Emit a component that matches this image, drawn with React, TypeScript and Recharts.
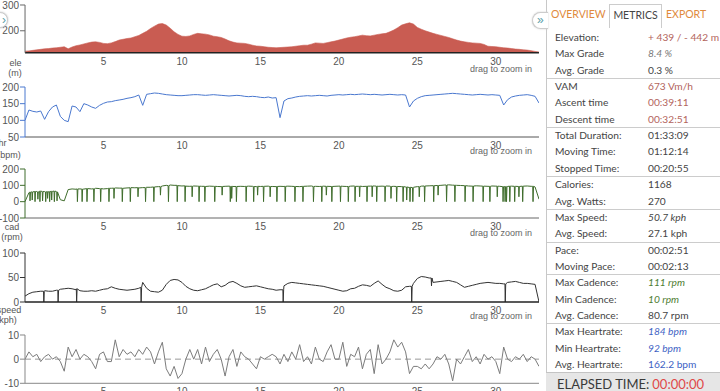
import React from 'react';
import { AreaChart, Area, LineChart, Line, XAxis, YAxis, ReferenceLine } from 'recharts';

// distance grid used by every trace (km)
const STEP_KM = 0.25;
const KM_MAX = 32.75;
const KM_TICKS = [5, 10, 15, 20, 25, 30];

const ELE_M = [
  121, 122, 124, 126, 128, 130, 131, 133, 134, 136, 138, 130, 137, 142, 145, 149,
  153, 156, 157, 155, 151, 150, 153, 158, 164, 167, 170, 172, 177, 182, 190, 198,
  209, 218, 226, 228, 222, 210, 196, 186, 179, 178, 180, 186, 190, 188, 187, 184,
  179, 177, 174, 168, 161, 156, 153, 152, 151, 148, 144, 141, 140, 138, 136, 135,
  134, 135, 136, 137, 138, 140, 142, 144, 144, 148, 153, 152, 151, 154, 157, 160,
  164, 168, 172, 175, 177, 180, 183, 181, 180, 183, 186, 188, 190, 196, 203, 212,
  222, 227, 231, 226, 213, 206, 200, 195, 190, 186, 182, 178, 174, 169, 164, 160,
  157, 155, 153, 152, 151, 147, 140, 139, 138, 136, 134, 133, 131, 129, 128, 126,
  125, 123, 120, 118,
];

const HR_BPM = [
  100, 131, 127, 125, 128, 103, 126, 140, 146, 112, 100, 96, 143, 140, 126, 150,
  146, 140, 136, 145, 151, 155, 156, 159, 161, 163, 166, 168, 171, 176, 145, 178,
  180, 182, 181, 179, 177, 176, 175, 174, 174, 175, 176, 177, 177, 176, 175, 176,
  177, 176, 175, 174, 173, 174, 175, 174, 172, 171, 172, 171, 169, 168, 170, 167,
  168, 108, 158, 165, 167, 170, 172, 173, 174, 173, 174, 175, 174, 173, 175, 176,
  177, 176, 177, 178, 177, 178, 179, 178, 177, 178, 177, 176, 177, 178, 177, 176,
  177, 176, 140, 158, 166, 171, 174, 175, 176, 177, 178, 179, 180, 181, 180, 179,
  178, 177, 176, 177, 178, 177, 176, 177, 176, 175, 146, 162, 170, 173, 175, 176,
  177, 175, 172, 152,
];

const CAD_RPM = [
  0, 55, 60, 62, 65, 62, 60, 63, 62, 12, 5, 74, 78, 76, 78, 77,
  80, 78, 82, 80, 78, 80, 82, 84, 83, 82, 84, 86, 85, 84, 86, 88,
  88, 90, 92, 96, 100, 102, 100, 98, 96, 95, 94, 96, 95, 94, 93, 95,
  94, 93, 92, 94, 95, 93, 92, 94, 93, 95, 94, 92, 93, 94, 95, 93,
  92, 94, 93, 95, 94, 93, 92, 94, 95, 96, 94, 93, 95, 94, 93, 94,
  95, 94, 93, 95, 96, 94, 93, 94, 95, 96, 94, 95, 96, 95, 94, 93,
  92, 90, 86, 88, 92, 95, 96, 97, 98, 99, 100, 102, 103, 101, 100, 99,
  98, 96, 95, 97, 96, 95, 94, 96, 95, 94, 92, 93, 95, 94, 93, 95,
  96, 94, 90, 15,
];

// cadence dropouts: [km, level before, lowest value]
const CAD_DROPS = [
  [0.3, 58, 5], [0.44, 60, 10], [0.62, 62, 0], [0.8, 60, 15], [0.93, 64, 0], [1.1, 62, 5],
  [1.3, 60, 0], [1.42, 62, 20], [1.55, 62, 0], [1.68, 64, 10], [1.85, 65, 0], [2.02, 60, 5],
  [3.32, 78, 0], [3.62, 77, 0], [3.93, 80, 0], [4.37, 79, 0], [4.8, 80, 0], [5.33, 82, 0],
  [5.65, 83, 20], [6.18, 83, 0], [6.69, 85, 0], [7.18, 86, 30], [7.66, 86, 0], [8.19, 90, 0],
  [8.61, 92, 40], [9.12, 98, 0], [9.68, 100, 0], [10.18, 97, 0], [10.63, 95, 30], [11.07, 95, 0],
  [11.44, 94, 0], [12.07, 94, 0], [12.54, 93, 40], [13.06, 94, 0], [13.15, 94, 20], [13.45, 93, 0],
  [14.07, 94, 0], [14.55, 93, 0], [14.8, 94, 40], [15.18, 94, 0], [15.6, 93, 30],
  [16.03, 93, 0], [16.56, 94, 0], [17.18, 93, 0], [17.69, 94, 0], [18.36, 93, 0], [18.89, 94, 0],
  [19.18, 94, 40], [19.53, 93, 0], [20.08, 95, 0], [20.58, 93, 0], [21.01, 94, 0], [21.3, 95, 30],
  [21.77, 95, 0], [22.1, 96, 30], [22.39, 95, 0], [22.92, 94, 0], [23.3, 93, 20], [23.66, 93, 0],
  [24.07, 92, 0], [24.3, 90, 10], [24.51, 88, 0], [24.69, 86, 0], [25.1, 92, 30], [25.44, 96, 0],
  [26.02, 98, 0], [26.3, 99, 40], [26.84, 102, 0], [27.37, 101, 0], [28.02, 98, 0], [28.53, 96, 0],
  [29.17, 95, 0], [29.6, 94, 0], [30.07, 95, 30], [30.44, 92, 0], [30.57, 92, 0], [30.66, 93, 0],
  [30.87, 95, 0], [31.18, 94, 0], [31.45, 93, 30], [31.69, 95, 0], [32.35, 94, 0],
];

const SPEED_KPH = [
  12, 17, 20, 21, 22, 23, 22, 22, 24, 26, 27, 28, 27, 25, 23, 22,
  22, 23, 22, 24, 26, 27, 31, 28, 26, 25, 24, 25, 26, 28, 40, 28,
  22, 21, 20, 24, 36, 44, 46, 45, 40, 32, 27, 24, 23, 25, 27, 31,
  35, 37, 31, 34, 40, 42, 38, 33, 30, 31, 32, 33, 31, 29, 27, 26,
  24, 25, 33, 38, 40, 39, 38, 37, 36, 35, 34, 33, 32, 30, 28, 26,
  24, 22, 23, 27, 28, 32, 35, 34, 32, 38, 43, 36, 30, 27, 23, 22,
  24, 31, 32, 38, 48, 52, 51, 49, 40, 41, 42, 43, 44, 42, 40, 35,
  30, 32, 34, 36, 38, 39, 40, 39, 38, 38, 37, 40, 41, 42, 40, 38,
  38, 37, 36, 0,
];

const SPEED_DROPS = [
  [1.18, 22, 0], [2.09, 24, 0], [3.27, 27, 0], [7.38, 30, 0], [16.43, 25, 0],
  [24.62, 32, 0], [25.88, 49, 33], [30.58, 37, 0],
];

const GRADE_PCT = [
  0, 3, 1, 2, -1, 1, 2, 0, 1, -1, -5, 5, 1, 4, 0, 2,
  1, -1, -4, 2, 3, -1, -1, 8, 1, 4, 2, 3, 1, 4, 2, 5,
  3, -2, 3, 7, -4, -7, -3, -8, -6, 0, 4, 0, 4, -2, 5, -1,
  2, 4, 0, -7, 1, 4, -3, 3, 1, 0, -2, -4, 1, 0, 1, 2,
  1, -2, 2, -1, 3, 0, 6, -1, 1, -2, 5, 0, -1, 3, 6, 0,
  0, 7, -3, 2, 1, 5, -4, 2, 4, -6, 6, -2, 0, 3, 8, 5,
  7, 3, -6, -3, -3, -4, -2, -4, -2, 1, 0, 2, -2, -9, 0, -2,
  1, 4, -1, 1, -2, 2, 0, 1, -1, -6, 5, 0, -1, 1, 0, 2,
  -1, 1, 0, -3,
];

const METRIC_LABELS = [
  'Elevation:', 'Max Grade', 'Avg. Grade', 'VAM', 'Ascent time', 'Descent time',
  'Total Duration:', 'Moving Time:', 'Stopped Time:', 'Calories:', 'Avg. Watts:',
  'Max Speed:', 'Avg. Speed:', 'Pace:', 'Moving Pace:', 'Max Cadence:', 'Min Cadence:',
  'Avg. Cadence:', 'Max Heartrate:', 'Min Heartrate:', 'Avg. Heartrate:',
];
const METRIC_VALUES = [
  '+ 439 / - 442 m', '8.4 %', '0.3 %', '673 Vm/h', '00:39:11', '00:32:51',
  '01:33:09', '01:12:14', '00:20:55', '1168', '270',
  '50.7 kph', '27.1 kph', '00:02:51', '00:02:13', '111 rpm', '10 rpm',
  '80.7 rpm', '184 bpm', '92 bpm', '162.2 bpm',
];
const METRIC_KIND = [
  'elev', 'maxgray', 'plain', 'elev', 'elev', 'elev',
  'plain', 'plain', 'plain', 'plain', 'plain',
  'max', 'plain', 'plain', 'plain', 'cadmax', 'cadmax',
  'plain', 'hrmax', 'hrmax', 'hr',
];
const GROUP_STARTS = [3, 6, 9, 11, 13, 15, 18];

const TABS = ['OVERVIEW', 'METRICS', 'EXPORT'];

const KM = ELE_M.map((_, i) => i * STEP_KM);

function series(values: number[], drops: number[][] = []) {
  const pts = values.map((v, i) => ({ km: KM[i], v }));
  drops.forEach(([km, level, low]) => {
    pts.push({ km, v: level }, { km: km + 0.02, v: low }, { km: km + 0.05, v: level });
  });
  return pts.sort((a, b) => a.km - b.km);
}

const AXIS_FONT = '"Liberation Sans", Arial, sans-serif';
const tickStyle = { fontSize: 10, fill: '#555', fontFamily: AXIS_FONT };
const MARGIN = { top: 5, right: 6, bottom: 0, left: 0 };
const W = 545;

type PanelProps = {
  top: number;
  height: number;
  data: { km: number; v: number }[];
  domain: [number, number];
  ticks: number[];
  color: string;
  yColor: string;
  xColor: string;
  xWidth?: number;
  area?: boolean;
  zero?: boolean;
};

function Panel({ top, height, data, domain, ticks, color, yColor, xColor, xWidth = 1, area, zero }: PanelProps) {
  const xAxis = (
    <XAxis
      type="number"
      dataKey="km"
      domain={[0, KM_MAX]}
      allowDataOverflow
      ticks={KM_TICKS}
      interval={0}
      height={20}
      tickLine={false}
      tickSize={3}
      tickMargin={2}
      tick={tickStyle}
      axisLine={area ? false : { stroke: xColor, strokeWidth: xWidth }}
    />
  );
  const yAxis = (
    <YAxis
      width={25}
      domain={domain}
      allowDataOverflow
      ticks={ticks}
      interval={0}
      tickSize={5}
      tickMargin={1}
      tick={tickStyle}
      axisLine={{ stroke: yColor }}
      tickLine={{ stroke: yColor }}
    />
  );
  return (
    <div style={{ position: 'absolute', left: 0, top, width: W, height }}>
      {area ? (
        <AreaChart width={W} height={height} data={data} margin={MARGIN}>
          {xAxis}
          {yAxis}
          <Area
            type="linear"
            dataKey="v"
            fill={color}
            fillOpacity={1}
            stroke={color}
            strokeWidth={0.6}
            isAnimationActive={false}
          />
          <ReferenceLine y={domain[0]} stroke={xColor} strokeWidth={xWidth} />
        </AreaChart>
      ) : (
        <LineChart width={W} height={height} data={data} margin={MARGIN}>
          {xAxis}
          {yAxis}
          {zero && <ReferenceLine y={0} stroke="#999" strokeDasharray="6 4" />}
          <Line
            type="linear"
            dataKey="v"
            stroke={color}
            strokeWidth={1}
            dot={false}
            isAnimationActive={false}
          />
        </LineChart>
      )}
    </div>
  );
}

function AxisTitle({ text, cx, cy }: { text: string; cx: number; cy: number }) {
  return (
    <div
      style={{
        position: 'absolute', left: cx - 25, top: cy - 6, width: 50, height: 12,
        textAlign: 'center', lineHeight: '12px', fontSize: 9, color: '#555', fontFamily: AXIS_FONT,
      }}
    >
      {text}
    </div>
  );
}

function DragHint({ cy }: { cy: number }) {
  return (
    <div
      style={{
        position: 'absolute', left: 412, top: cy - 6, width: 120, height: 12,
        textAlign: 'right', lineHeight: '12px', fontSize: 9, color: '#666', fontFamily: AXIS_FONT,
      }}
    >
      drag to zoom in
    </div>
  );
}

const VALUE_STYLE: Record<string, React.CSSProperties> = {
  plain: { color: '#444' },
  elev: { color: '#b3645c' },
  maxgray: { color: '#777', fontStyle: 'italic' },
  max: { color: '#444', fontStyle: 'italic' },
  cadmax: { color: '#4e7d31', fontStyle: 'italic' },
  hrmax: { color: '#3d62c4', fontStyle: 'italic' },
  hr: { color: '#3d62c4' },
};

function Sidebar() {
  const rowTop = 29;
  const rowH = 16.35;
  return (
    <div style={{ position: 'absolute', left: 546, top: 0, width: 174, height: 391, fontFamily: 'Lato, sans-serif' }}>
      <div style={{ position: 'absolute', left: 0, top: 0, width: 1, height: 391, background: '#c8c8c8' }} />
      {TABS.map((t, i) => {
        const active = i === 1;
        const left = [5, 63, 120][i];
        const width = [54, 53, 40][i];
        return (
          <div
            key={t}
            style={{
              position: 'absolute', left: left, top: 4, width, height: 24,
              boxSizing: 'border-box',
              border: active ? '1px solid #ccc' : 'none',
              borderBottom: 'none',
              background: '#fff', whiteSpace: 'nowrap',
              textAlign: 'center', lineHeight: '20px', fontSize: 10.5,
              color: active ? '#444' : '#e08a3c',
            }}
          >
            {t}
          </div>
        );
      })}
      {METRIC_LABELS.map((label, i) => {
        const shift = GROUP_STARTS.includes(i) ? -1 : 0;
        return (
          <div
            key={label}
            style={{
              position: 'absolute', left: 1, top: rowTop + i * rowH, width: 173, height: rowH,
              borderTop: GROUP_STARTS.includes(i) ? '1px solid #ccc' : 'none',
              boxSizing: 'border-box', fontSize: 10.2, lineHeight: `${rowH}px`, whiteSpace: 'nowrap',
            }}
          >
            <span style={{ position: 'absolute', left: 8, top: shift, color: '#444', whiteSpace: 'nowrap' }}>{label}</span>
            <span
              style={{ position: 'absolute', left: 101, top: shift, whiteSpace: 'nowrap', ...VALUE_STYLE[METRIC_KIND[i]] }}
            >
              {METRIC_VALUES[i]}
            </span>
          </div>
        );
      })}
      <div
        style={{
          position: 'absolute', left: 0, top: 372, width: 174, height: 30, background: '#e6e6e6',
          borderTop: '1px solid #c4c4c4', boxSizing: 'border-box', paddingLeft: 11,
          fontSize: 13, lineHeight: '22px', color: '#3a3a3a', whiteSpace: 'nowrap',
        }}
      >
        ELAPSED TIME:<span style={{ color: '#e04848', marginLeft: 3 }}>00:00:00</span>
      </div>
    </div>
  );
}

export default function App() {
  return (
    <div style={{ position: 'fixed', left: 0, top: 0, width: 720, height: 391, overflow: 'hidden', background: '#fff' }}>
      <Panel top={0} height={72.7} data={series(ELE_M)} domain={[115, 300]} ticks={[200, 300]}
        color="#c95c52" yColor="#666" xColor="#222" xWidth={1.5} area />
      <Panel top={82} height={75} data={series(HR_BPM)} domain={[50, 200]} ticks={[50, 100, 150, 200]}
        color="#4a78cf" yColor="#4a78cf" xColor="#555" />
      <Panel top={164.3} height={74} data={series(CAD_RPM, CAD_DROPS)} domain={[-100, 200]} ticks={[-100, 0, 100, 200]}
        color="#3f6d2c" yColor="#3f6d2c" xColor="#666" />
      <Panel top={247.7} height={74} data={series(SPEED_KPH, SPEED_DROPS)} domain={[0, 100]} ticks={[0, 50, 100]}
        color="#333" yColor="#333" xColor="#222" xWidth={1.5} />
      <Panel top={330} height={73.3} data={series(GRADE_PCT)} domain={[-10, 10]} ticks={[-10, 0, 10]}
        color="#7a7a7a" yColor="#888" xColor="#888" zero />

      <AxisTitle text="ele" cx={15.5} cy={62.7} />
      <AxisTitle text="(m)" cx={15} cy={72.7} />
      <AxisTitle text="hr" cx={2.5} cy={143.3} />
      <AxisTitle text="(bpm)" cx={9} cy={154.5} />
      <AxisTitle text="cad" cx={12} cy={226.7} />
      <AxisTitle text="(rpm)" cx={12} cy={237.3} />
      <AxisTitle text="speed" cx={9} cy={310} />
      <AxisTitle text="(kph)" cx={6.5} cy={319.5} />

      <DragHint cy={69} />
      <DragHint cy={151} />
      <DragHint cy={233} />
      <DragHint cy={316} />

      <div
        style={{
          position: 'absolute', left: -8, top: 12, width: 16, height: 16, borderRadius: 8,
          border: '1px solid #ccc', background: '#fff', boxShadow: '0 0 2px #bbb',
          fontSize: 12, lineHeight: '15px', color: '#5a9ea8',
          boxSizing: 'border-box', fontFamily: AXIS_FONT,
        }}
      >
        <span style={{ position: 'absolute', left: 9, top: 0 }}>›</span>
      </div>

      <Sidebar />

      <div
        style={{
          position: 'absolute', left: 532, top: 12, width: 16, height: 17, borderRadius: '9px 0 0 9px',
          border: '1px solid #ccc', borderRight: 'none', background: '#fff', boxShadow: '0 0 2px #ccc',
          boxSizing: 'border-box', fontSize: 12, lineHeight: '14px', color: '#5a9ea8', fontFamily: AXIS_FONT,
        }}
      >
        <span style={{ position: 'absolute', left: 4, top: 0 }}>»</span>
      </div>
    </div>
  );
}
